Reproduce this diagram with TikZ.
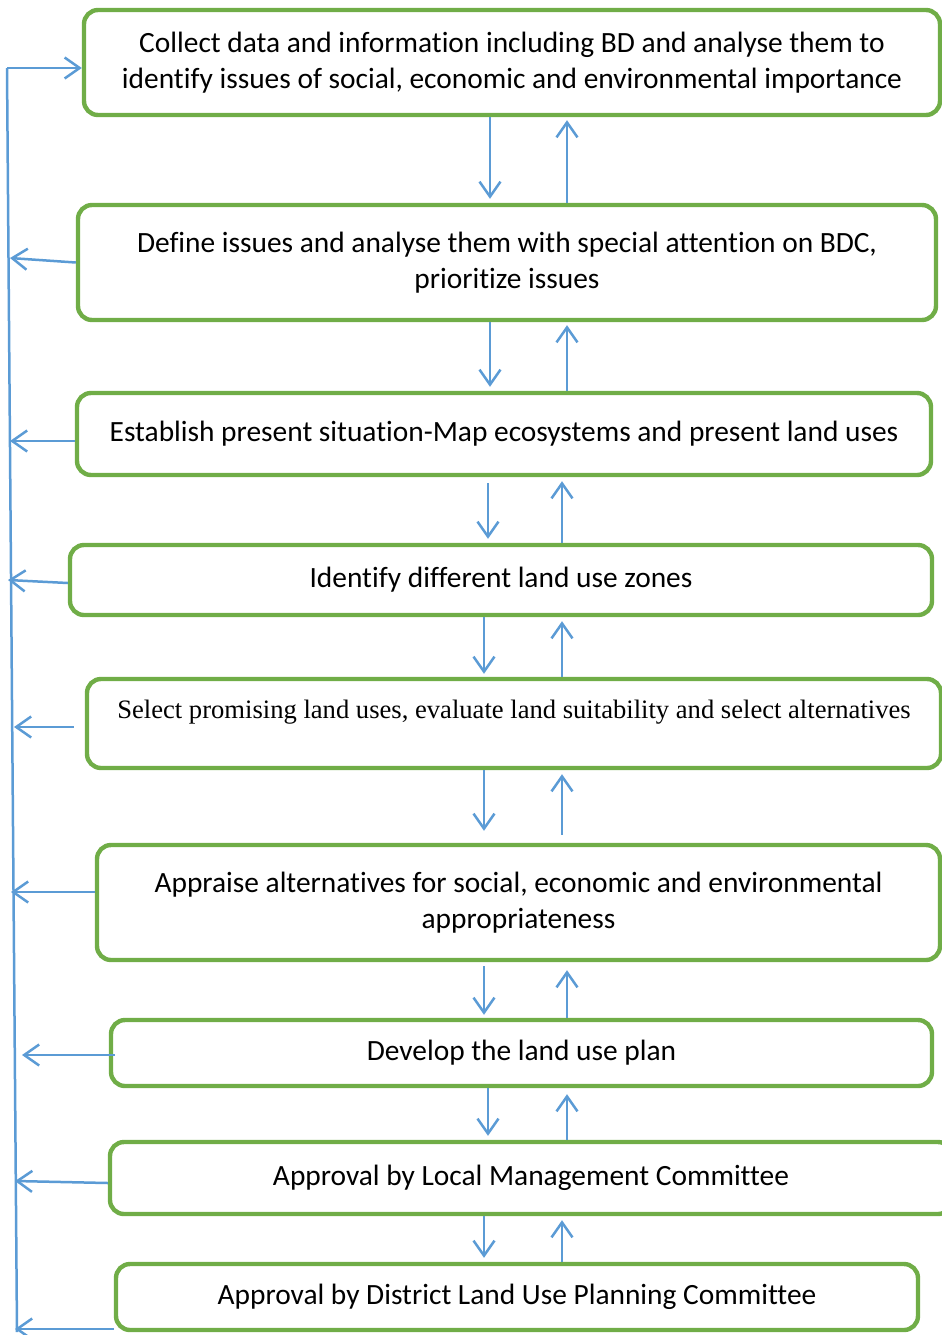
\documentclass[tikz,border=0pt]{standalone}
\usepackage{fontspec}
\setmainfont{Carlito}[RawFeature={-liga;-clig;-calt}]
\newfontfamily\timesfont{Liberation Serif}
\usetikzlibrary{arrows.meta}
\definecolor{boxgreen}{HTML}{70AD47}
\definecolor{flowblue}{HTML}{5B9BD5}

\begin{document}
\begin{tikzpicture}[x=0.5pt,y=-0.5pt,
	box/.style={draw=boxgreen,line width=2.2pt,rounded corners=7pt,inner sep=0pt,align=center,
		font=\fontsize{14.7}{18}\selectfont},
	flow/.style={draw=flowblue,line width=1.25pt,-{Straight Barb[length=7.5pt,width=10.5pt,line width=1.25pt]}},
	spine/.style={draw=flowblue,line width=1.25pt}]
	\useasboundingbox (0,0) rectangle (942,1335);

	\node (collect) [box,minimum width=428pt,minimum height=52.5pt] at (512,62.5)
		{Collect data and information including BD and analyse them to\\identify issues of social, economic and environmental importance};
	\node (define) [box,minimum width=429pt,minimum height=57.5pt] at (507,262.5)
		{Define issues and analyse them with special attention on BDC,\\prioritize issues};
	\node (present) [box,minimum width=427pt,minimum height=41pt] at (504,434)
		{Establish present situation-Map ecosystems and present land uses};
	\node (zones) [box,minimum width=431pt,minimum height=35pt] at (501,580)
		{Identify different land use zones};
	\node (select) [box,minimum width=427pt,minimum height=44.5pt] at (514,723.5)
		{\timesfont\fontsize{13.3}{18}\selectfont Select promising land uses, evaluate land suitability and select alternatives\\[-4pt]~};
	\node (appraise) [box,minimum width=421.5pt,minimum height=57.5pt] at (518.5,902.5)
		{Appraise alternatives for social, economic and environmental\\appropriateness};
	\node (develop) [box,minimum width=410.5pt,minimum height=33pt] at (521.5,1053)
		{Develop the land use plan};
	\node (local) [box,minimum width=421pt,minimum height=36pt] at (531,1178)
		{Approval by Local Management Committee};
	\node (district) [box,minimum width=401pt,minimum height=33pt] at (517,1297)
		{Approval by District Land Use Planning Committee};

	% feedback line on the left
	\coordinate (top) at (7,68);
	\coordinate (bottom) at (17,1332);
	\coordinate (s2) at (10,258);
	\coordinate (s3) at (10,441);
	\coordinate (s4) at (8,580);
	\coordinate (s5) at (14,727);
	\coordinate (s6) at (11,892);
	\coordinate (s7) at (22,1055);
	\coordinate (s8) at (15,1181);
	\coordinate (s9) at (15,1329);
	\draw [spine] (top) -- (bottom);
	\draw [flow] (top) -- (top -| collect.west);
	\draw [flow] (define.west) -- (s2);
	\draw [flow] (present.west |- s3) -- (s3);
	\draw [flow] (zones.west |- 0,583) -- (s4);
	\draw [flow,shorten <=5.5pt] (select.west |- s5) -- (s5);
	\draw [flow] (appraise.west |- s6) -- (s6);
	\draw [flow] ([xshift=3pt]develop.west |- s7) -- (s7);
	\draw [flow] (local.west |- 0,1183) -- (s8);
	\draw [flow] (district.south west |- s9) -- (s9);

	% down and up arrows between the steps
	\draw [flow,shorten >=2pt] (collect.south -| 490,0) -- (define.north -| 490,0);
	\draw [flow,shorten >=1.5pt] (define.north -| 567,0) -- (collect.south -| 567,0);
	\draw [flow,shorten >=2pt] (define.south -| 490,0) -- (present.north -| 490,0);
	\draw [flow,shorten >=1.5pt] (present.north -| 567,0) -- (define.south -| 567,0);
	\draw [flow,shorten <=3pt,shorten >=2pt] (present.south -| 488,0) -- (zones.north -| 488,0);
	\draw [flow,shorten >=2pt] (zones.north -| 562,0) -- (present.south -| 562,0);
	\draw [flow,shorten >=1.5pt] (zones.south -| 484,0) -- (select.north -| 484,0);
	\draw [flow,shorten >=2pt] (select.north -| 562,0) -- (zones.south -| 562,0);
	\draw [flow,shorten >=6pt] (select.south -| 484,0) -- (appraise.north -| 484,0);
	\draw [flow,shorten <=4pt,shorten >=2pt] (appraise.north -| 562,0) -- (select.south -| 562,0);
	\draw [flow,shorten <=2pt,shorten >=1.5pt] (appraise.south -| 484,0) -- (develop.north -| 484,0);
	\draw [flow,shorten >=4pt] (develop.north -| 567,0) -- (appraise.south -| 567,0);
	\draw [flow,shorten >=2pt] (develop.south -| 488,0) -- (local.north -| 488,0);
	\draw [flow,shorten >=3pt] (local.north -| 567,0) -- (develop.south -| 567,0);
	\draw [flow,shorten >=2pt] (local.south -| 484,0) -- (district.north -| 484,0);
	\draw [flow,shorten >=2pt] (district.north -| 562,0) -- (local.south -| 562,0);
\end{tikzpicture}
\end{document}
